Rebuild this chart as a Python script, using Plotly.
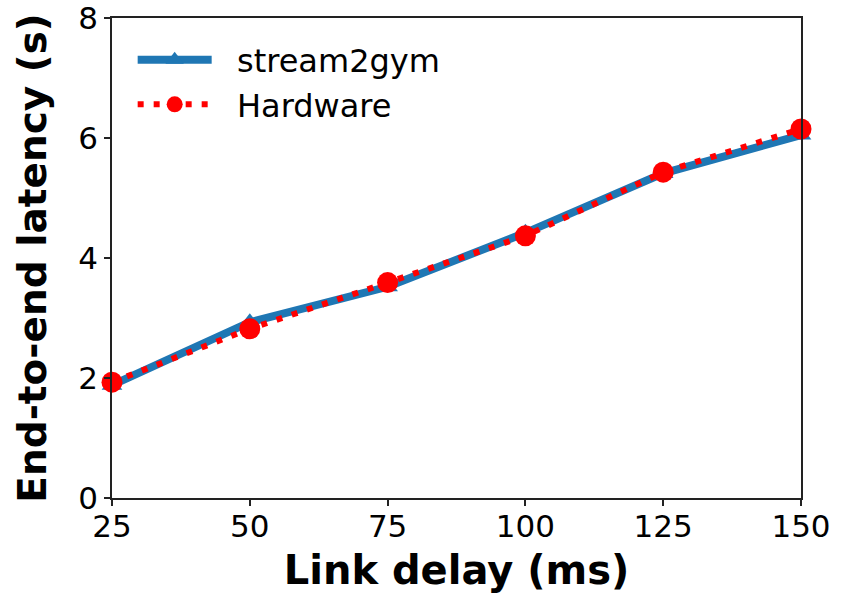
import plotly.graph_objects as go

# Link delay settings (ms) and measured end-to-end latency (s)
link_delay_ms = [25, 50, 75, 100, 125, 150]
stream2gym_latency = [1.88, 2.93, 3.52, 4.42, 5.41, 6.05]
hardware_latency = [1.93, 2.82, 3.59, 4.37, 5.43, 6.15]

x_ticks = [25, 50, 75, 100, 125, 150]
y_ticks = [0, 2, 4, 6, 8]

series_names = ["stream2gym", "Hardware"]

FONT = "DejaVu Sans"
PAD = "\u00a0\u00a0"

fig = go.Figure()

fig.add_trace(go.Scatter(
    x=link_delay_ms, y=stream2gym_latency,
    name=PAD + series_names[0],
    mode="lines+markers",
    line=dict(color="#1f77b4", width=8),
    marker=dict(symbol="triangle-up", size=18, color="#1f77b4"),
    cliponaxis=False,
))

fig.add_trace(go.Scatter(
    x=link_delay_ms, y=hardware_latency,
    name=PAD + series_names[1],
    mode="lines+markers",
    line=dict(color="#ff0000", width=6, dash="6px,10px"),
    marker=dict(symbol="circle", size=21, color="#ff0000"),
    cliponaxis=False,
))

axis_common = dict(
    showline=True, linecolor="#222222", linewidth=1.5, mirror=True,
    ticks="outside", ticklen=6, tickwidth=1.5, tickcolor="#222222",
    showgrid=False, zeroline=False,
    ticklabeloverflow="allow",
    tickfont=dict(family=FONT, size=31, color="#000000"),
)

fig.update_xaxes(
    range=[25, 150], tickvals=x_ticks, ticktext=[str(v) for v in x_ticks],
    ticklabelstandoff=-6,
    title=dict(text="<b>Link delay (ms)</b>",
               font=dict(family=FONT, size=40, color="#000000"), standoff=20),
    **axis_common,
)
fig.update_yaxes(
    range=[0, 8.0001], tickvals=y_ticks, ticktext=[str(v) for v in y_ticks],
    title=dict(text="<b>End-to-end latency (s)</b>",
               font=dict(family=FONT, size=39, color="#000000"), standoff=20),
    **axis_common,
)

fig.update_layout(
    width=850, height=593,
    margin=dict(l=112, r=49, t=18, b=95, autoexpand=False),
    paper_bgcolor="white", plot_bgcolor="white",
    showlegend=True,
    legend=dict(
        x=0.03, y=0.97, xanchor="left", yanchor="top",
        bgcolor="rgba(255,255,255,0)", borderwidth=0,
        font=dict(family=FONT, size=32, color="#000000"),
        itemsizing="trace", itemwidth=74, tracegroupgap=4,
    ),
)

fig.write_html("out.html")
